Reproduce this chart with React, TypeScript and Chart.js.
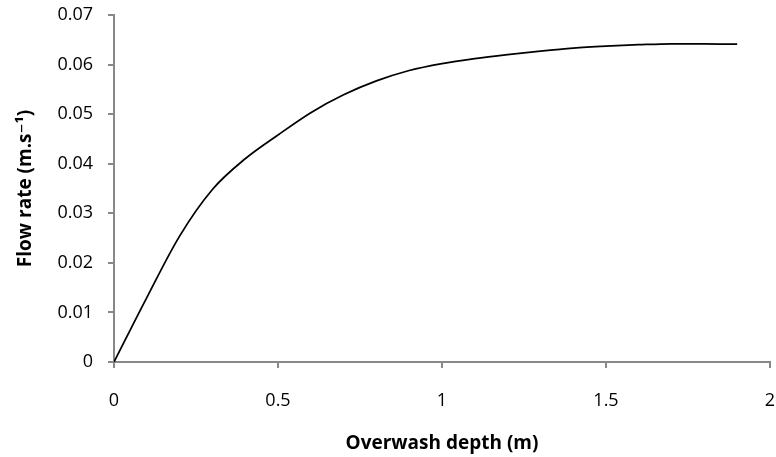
import React, { useEffect, useRef } from "react";
import { Chart, registerables } from "chart.js";

Chart.register(...registerables);

const depths = [0, 0.1, 0.2, 0.3, 0.4, 0.5, 0.6, 0.7, 0.8, 0.9, 1.0, 1.1, 1.2, 1.3, 1.4, 1.5, 1.6, 1.7, 1.8, 1.9];
const flowRates = [0, 0.013, 0.0254, 0.0348, 0.041, 0.0458, 0.0503, 0.0539, 0.0567, 0.0588, 0.0602, 0.0612, 0.062, 0.0627, 0.0633, 0.0637, 0.064, 0.0642, 0.0642, 0.0641];

const xTicks = [0, 0.5, 1, 1.5, 2];
const xTitle = "Overwash depth (m)";
const yTitle = "Flow rate (m.s\u207B\u00B9)";

const FONT = "'Open Sans', 'DejaVu Sans', sans-serif";
const AXIS = "#888888";

const fmt = (v: any) => String(+Number(v).toFixed(3));

export default function App() {
  const ref = useRef<HTMLCanvasElement>(null);
  useEffect(() => {
    document.body.style.margin = "0";
    const ctx = ref.current!;
    const chart = new Chart(ctx, {
      type: "line",
      data: {
        datasets: [
          {
            data: depths.map((x, i) => ({ x, y: flowRates[i] })),
            borderColor: "#000000",
            borderWidth: 1.75,
            pointRadius: 0,
            fill: false,
            cubicInterpolationMode: "monotone",
          },
        ],
      },
      options: {
        animation: false,
        responsive: false,
        maintainAspectRatio: false,
        layout: { padding: { left: 10, right: 6, top: 15, bottom: 0 } },
        plugins: { legend: { display: false }, tooltip: { enabled: false } },
        scales: {
          x: {
            type: "linear",
            min: xTicks[0],
            max: xTicks[xTicks.length - 1],
            afterFit: (s: any) => {
              s.height = 95;
              s.paddingLeft = 0;
              s.paddingRight = 0;
              s.paddingTop = 0;
              s.paddingBottom = 0;
            },
            ticks: {
              stepSize: 0.5,
              padding: 22,
              color: "#000",
              font: { family: FONT, size: 18 },
              maxRotation: 0,
              callback: fmt,
            },
            grid: {
              drawOnChartArea: false,
              drawTicks: true,
              tickLength: 6,
              color: AXIS,
              lineWidth: 2,
            },
            border: { color: AXIS, width: 2 },
            title: {
              display: true,
              text: xTitle,
              color: "#000",
              font: { family: FONT, size: 19, weight: "bold" },
              padding: { top: 0, bottom: 2 },
            },
          },
          y: {
            type: "linear",
            min: 0,
            max: 0.07,
            afterFit: (s: any) => {
              s.width = 104;
              s.paddingLeft = 0;
              s.paddingRight = 0;
              s.paddingTop = 0;
              s.paddingBottom = 0;
            },
            ticks: {
              stepSize: 0.01,
              padding: 15,
              color: "#000",
              font: { family: FONT, size: 18 },
              callback: fmt,
            },
            grid: {
              drawOnChartArea: false,
              drawTicks: true,
              tickLength: 6,
              color: AXIS,
              lineWidth: 2,
            },
            border: { color: AXIS, width: 2 },
            title: {
              display: true,
              text: yTitle,
              color: "#000",
              font: { family: FONT, size: 19, weight: "bold" },
              padding: { top: 4, bottom: 4 },
            },
          },
        },
      },
    });
    return () => chart.destroy();
  }, []);
  return (
    <div style={{ width: 776, height: 457 }}>
      <canvas ref={ref} width={776} height={457} style={{ display: "block" }} />
    </div>
  );
}
